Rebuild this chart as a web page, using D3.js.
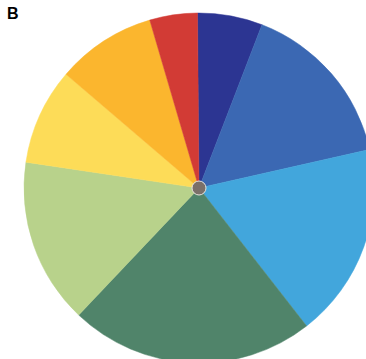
<!DOCTYPE html>
<head>
<meta charset="utf-8">
<script src="https://d3js.org/d3.v7.min.js"></script>
<style>
body {
	margin: 0;
	background: #fff;
}
.panel {
	font: bold 16px "Liberation Sans", Arial, sans-serif;
}
</style>
</head>
<body>
<svg id="chart" width="366" height="359"></svg>
<script>

// slices clockwise from just left of 12 o'clock (percent of circle)
var slices = ["navy", "blue", "lightblue", "darkgreen", "lightgreen", "yellow", "orange", "red"];
var shares = [6.0, 15.6, 18.0, 22.6, 15.3, 8.9, 9.2, 4.4];
var colours = ["#2c3592", "#3b68b3", "#42a6dc", "#50846a", "#b8d28b", "#fddc58", "#fbb62e", "#d23b35"];

var svg = d3.select("#chart"),
	cx = 199,
	cy = 188,
	radius = 175;

var colour = d3.scaleOrdinal()
	.domain(slices)
	.range(colours);

var start = -0.5 * Math.PI / 180;

var pie = d3.pie()
	.sort(null)
	.value(d => d.v)
	.startAngle(start)
	.endAngle(start + 2 * Math.PI);

var arc = d3.arc()
	.innerRadius(0)
	.outerRadius(radius);

var data = slices.map((s, i) => ({id: s, v: shares[i]}));

var g = svg.append("g")
	.attr("transform", "translate(" + cx + "," + cy + ")");

g.selectAll("path")
	.data(pie(data))
	.enter().append("path")
		.attr("d", arc)
		.style("fill", d => colour(d.data.id))
		.style("stroke", d => colour(d.data.id))
		.style("stroke-width", 0.5);

g.append("circle")
	.attr("r", 7)
	.style("fill", "#7b7069")
	.style("stroke", "#e8e4de")
	.style("stroke-width", 1);

svg.append("text")
	.attr("class", "panel")
	.attr("x", 7)
	.attr("y", 19)
	.text("B");

</script>
</body>
